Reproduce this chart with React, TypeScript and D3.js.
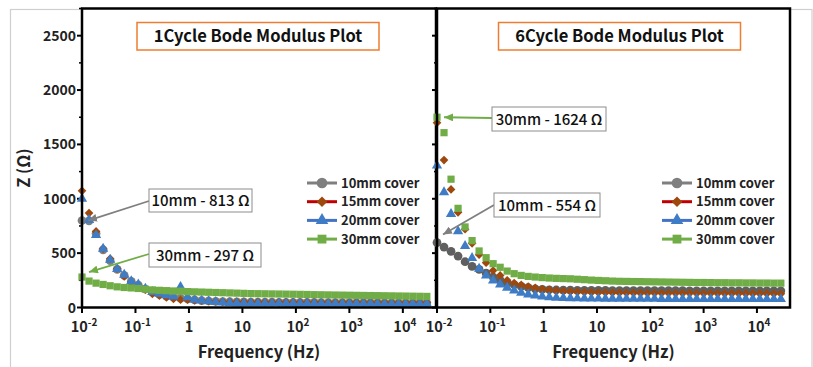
import React, { useEffect, useRef } from 'react';
import * as d3 from 'd3';

// frequency sweep (Hz), ~7.6 points per decade
const freq = [
  0.01, 0.01354, 0.01833, 0.02483, 0.03361, 0.0455, 0.06161, 0.08341, 0.1129, 0.1529,
  0.207, 0.2803, 0.3795, 0.5138, 0.6957, 0.9419, 1.275, 1.727, 2.338, 3.166,
  4.286, 5.803, 7.857, 10.64, 14.4, 19.5, 26.4, 35.75, 48.4, 65.53,
  88.72, 120.1, 162.6, 220.2, 298.1, 403.6, 546.5, 739.9, 1002, 1356,
  1836, 2486, 3366, 4558, 6171, 8355, 11312, 15316, 20737, 28076,
];

// 1 cycle |Z| (ohm)
const c1_10mm = [
  800, 797, 680, 530, 430, 350, 295, 240, 205, 170,
  140, 120, 105, 95, 85, 78, 70, 64, 60, 57,
  55, 53, 52, 51, 50, 50, 49, 49, 48, 48,
  48, 47, 47, 47, 46, 46, 46, 46, 45, 45,
  45, 45, 45, 44, 44, 44, 44, 44, 43, 43,
];
const c1_15mm = [
  1073, 868, 700, 541, 449, 357, 286, 233, 200, 165,
  126, 110, 92, 80, 71, 71, 66, 62, 58, 56,
  54, 53, 52, 52, 51, 51, 50, 50, 50, 50,
  49, 49, 49, 49, 49, 48, 48, 48, 48, 48,
  47, 47, 47, 47, 47, 46, 46, 46, 46, 46,
];
const c1_20mm = [
  1000, 805, 666, 540, 438, 355, 302, 242, 212, 174,
  142, 126, 112, 100, 190, 95, 71, 65, 58, 50,
  45, 41, 40, 39, 39, 38, 38, 38, 38, 37,
  37, 37, 37, 37, 37, 36, 36, 36, 36, 36,
  36, 36, 35, 35, 35, 35, 35, 35, 35, 35,
];
const c1_30mm = [
  280, 243, 224, 212, 200, 190, 184, 180, 175, 168,
  162, 158, 155, 152, 150, 146, 144, 142, 140, 138,
  136, 134, 132, 130, 128, 127, 126, 125, 124, 123,
  122, 121, 120, 118, 117, 116, 115, 114, 113, 112,
  111, 110, 109, 108, 107, 106, 105, 104, 103, 102,
];

// 6 cycle |Z| (ohm)
const c6_10mm = [
  597, 556, 517, 473, 421, 378, 350, 316, 280, 249,
  224, 209, 194, 182, 172, 166, 163, 161, 160, 159,
  158, 158, 157, 157, 157, 156, 156, 156, 156, 156,
  155, 155, 155, 155, 155, 155, 154, 154, 154, 154,
  154, 154, 153, 153, 153, 153, 153, 153, 153, 153,
];
const c6_15mm = [
  1700, 1356, 1086, 875, 720, 590, 486, 412, 340, 295,
  250, 225, 208, 193, 180, 170, 162, 156, 151, 147,
  144, 141, 139, 137, 136, 135, 134, 133, 133, 132,
  132, 131, 131, 131, 130, 130, 130, 129, 129, 129,
  128, 128, 128, 128, 127, 127, 127, 127, 126, 126,
];
const c6_20mm = [
  1305, 1060, 860, 701, 565, 455, 357, 295, 249, 212,
  182, 157, 136, 120, 111, 101, 95, 90, 87, 85,
  84, 83, 82, 82, 81, 81, 81, 80, 80, 80,
  80, 80, 79, 79, 79, 79, 79, 79, 78, 78,
  78, 78, 78, 78, 78, 78, 77, 77, 77, 77,
];
const c6_30mm = [
  1750, 1608, 1180, 912, 741, 615, 520, 458, 403, 370,
  335, 311, 295, 286, 280, 275, 271, 268, 266, 264,
  260, 256, 252, 249, 246, 243, 241, 240, 239, 238,
  237, 236, 235, 234, 233, 232, 231, 230, 230, 229,
  228, 228, 227, 227, 226, 226, 225, 225, 224, 224,
];

const seriesNames = ['10mm cover', '15mm cover', '20mm cover', '30mm cover'];
const xTickPowers = [-2, -1, 0, 1, 2, 3, 4];
const yTicks = [0, 500, 1000, 1500, 2000, 2500];
const yMinorTicks = [250, 750, 1250, 1750, 2250, 2750];

const W = 813;
const H = 367;
const FONT = '"Noto Sans CJK KR", "Noto Sans", sans-serif';

const lineColors = ['#7f7f7f', '#c00000', '#4472c4', '#70ad47'];
const markColors = ['#7f7f7f', '#9e480e', '#3f7cc6', '#70ad47'];
const symbols = [d3.symbolCircle, d3.symbolDiamond2, d3.symbolTriangle, d3.symbolSquare];
const symSizes = [60, 48, 46, 52];

const panels = [
  {
    x0: 82, x1: 436, title: '1Cycle Bode Modulus Plot', titleBox: [137, 22.5, 242, 27.5],
    data: [c1_10mm, c1_15mm, c1_20mm, c1_30mm], grayMark: '#7f7f7f', legendX: 307,
    notes: [
      { text: '10mm - 813 Ω', s: 0, box: [149, 189, 103, 23], from: [149, 201], dx: 6, dy: 0 },
      { text: '30mm - 297 Ω', s: 3, box: [149, 243, 112, 24], from: [149, 254], dx: 7, dy: -5 },
    ],
  },
  {
    x0: 437, x1: 790, title: '6Cycle Bode Modulus Plot', titleBox: [498.5, 22.5, 242, 27.5],
    data: [c6_10mm, c6_15mm, c6_20mm, c6_30mm], grayMark: '#5f5f5f', legendX: 662,
    notes: [
      { text: '30mm - 1624 Ω', s: 3, box: [492, 107, 114, 24], from: [492, 118], dx: 7, dy: 0 },
      { text: '10mm - 554 Ω', s: 0, box: [494, 193, 106, 24], from: [494, 205], dx: 6, dy: -8 },
    ],
  },
];

const App = () => {
  const svgRef = useRef(null);

  useEffect(() => {
    const svg = d3.select(svgRef.current);
    svg.selectAll('*').remove();

    const defs = svg.append('defs');
    [['arrow-gray', '#7f7f7f'], ['arrow-green', '#70ad47']].forEach(([id, c]) => {
      defs.append('marker')
        .attr('id', id)
        .attr('markerUnits', 'userSpaceOnUse')
        .attr('markerWidth', 10).attr('markerHeight', 8)
        .attr('refX', 9).attr('refY', 4)
        .attr('orient', 'auto')
        .append('path').attr('d', 'M0,0 L9,4 L0,8 z').attr('fill', c);
    });

    svg.append('rect').attr('width', W).attr('height', H).attr('fill', '#fff');
    // light outer frame
    svg.append('rect')
      .attr('x', 10.5).attr('y', 9.5).attr('width', 801.5).attr('height', 380)
      .attr('fill', 'none').attr('stroke', '#cfcfcf').attr('stroke-width', 1.2);

    const y = d3.scaleLinear().domain([0, 2750]).range([307.5, 8.5]);

    panels.forEach((p, pi) => {
      const x = d3.scaleLog().domain([0.01, Math.pow(10, 4.62)]).range([p.x0, p.x1]);
      const g = svg.append('g');

      // white plot area
      g.append('rect').attr('x', p.x0).attr('y', 8.5).attr('width', p.x1 - p.x0).attr('height', 299)
        .attr('fill', '#fff');

      // y ticks on left side of each panel
      g.selectAll('.ymaj').data(yTicks).enter().append('line')
        .attr('x1', p.x0 - 5).attr('x2', p.x0).attr('y1', d => y(d)).attr('y2', d => y(d))
        .attr('stroke', '#000').attr('stroke-width', 2);
      g.selectAll('.ymin').data(yMinorTicks).enter().append('line')
        .attr('x1', p.x0 - 3).attr('x2', p.x0).attr('y1', d => y(d)).attr('y2', d => y(d))
        .attr('stroke', '#000').attr('stroke-width', 1.5);
      if (pi === 0) {
        g.selectAll('.ylab').data(yTicks).enter().append('text')
          .attr('x', 76).attr('y', d => y(d) + 5)
          .attr('text-anchor', 'end')
          .attr('font-family', FONT).attr('font-size', 14).attr('font-weight', 700)
          .attr('fill', '#222')
          .text(d => d);
      }

      // x ticks
      g.selectAll('.xt').data(xTickPowers).enter().append('line')
        .attr('x1', d => x(Math.pow(10, d))).attr('x2', d => x(Math.pow(10, d)))
        .attr('y1', 307.5).attr('y2', 313)
        .attr('stroke', '#000').attr('stroke-width', 2);
      const lab = g.selectAll('.xl').data(xTickPowers).enter().append('text')
        .attr('x', d => x(Math.pow(10, d)) + (d < 0 || d > 1 ? 2 : 0)).attr('y', 332)
        .attr('text-anchor', 'middle')
        .attr('font-family', FONT).attr('font-size', 14.5).attr('font-weight', 700)
        .attr('fill', '#222');
      lab.append('tspan').text(d => (d === 0 ? '1' : '10'));
      lab.filter(d => d < 0 || d > 1).append('tspan')
        .attr('dy', -6).attr('font-size', 10).text(d => String(d));

      g.append('text')
        .attr('x', (p.x0 + p.x1) / 2).attr('y', 358)
        .attr('text-anchor', 'middle')
        .attr('font-family', FONT).attr('font-size', 16.5).attr('font-weight', 700)
        .attr('fill', '#222')
        .text('Frequency (Hz)');

      // data markers
      p.data.forEach((vals, si) => {
        const sym = d3.symbol().type(symbols[si]).size(symSizes[si]);
        g.append('g').selectAll('path').data(vals).enter().append('path')
          .attr('d', sym)
          .attr('transform', (d, i) => `translate(${x(freq[i])},${y(d)})`)
          .attr('fill', si === 0 ? p.grayMark : markColors[si]);
      });

      // frame
      g.append('rect').attr('x', p.x0).attr('y', 8.5).attr('width', p.x1 - p.x0).attr('height', 299)
        .attr('fill', 'none').attr('stroke', '#000').attr('stroke-width', 2.5);

      // title box
      const [tx, ty, tw, th] = p.titleBox;
      g.append('rect').attr('x', tx).attr('y', ty).attr('width', tw).attr('height', th)
        .attr('fill', '#fff').attr('stroke', '#ed7d31').attr('stroke-width', 1.5);
      g.append('text')
        .attr('x', tx + tw / 2).attr('y', ty + th / 2 + 6)
        .attr('text-anchor', 'middle')
        .attr('font-family', FONT).attr('font-size', 16.5).attr('font-weight', 700)
        .attr('fill', '#111')
        .text(p.title);

      // legend
      seriesNames.forEach((name, si) => {
        const ly = 183 + si * 18.7;
        g.append('line')
          .attr('x1', p.legendX).attr('x2', p.legendX + 30).attr('y1', ly).attr('y2', ly)
          .attr('stroke', lineColors[si]).attr('stroke-width', 3);
        g.append('path')
          .attr('d', d3.symbol().type(symbols[si]).size(symSizes[si] * 1.5)())
          .attr('transform', `translate(${p.legendX + 15},${ly})`)
          .attr('fill', si === 0 ? '#7f7f7f' : markColors[si]);
        g.append('text')
          .attr('x', p.legendX + 34).attr('y', ly + 4.5)
          .attr('font-family', FONT).attr('font-size', 13).attr('font-weight', 700)
          .attr('fill', '#222')
          .text(name);
      });

      // annotations
      p.notes.forEach(n => {
        const color = n.s === 3 ? '#70ad47' : '#7f7f7f';
        const tipX = x(freq[0]) + n.dx;
        const tipY = y(p.data[n.s][0]) + n.dy;
        g.append('line')
          .attr('x1', n.from[0]).attr('y1', n.from[1]).attr('x2', tipX).attr('y2', tipY)
          .attr('stroke', color).attr('stroke-width', 1.8)
          .attr('marker-end', `url(#${n.s === 3 ? 'arrow-green' : 'arrow-gray'})`);
        const [bx, by, bw, bh] = n.box;
        g.append('rect').attr('x', bx).attr('y', by).attr('width', bw).attr('height', bh)
          .attr('fill', '#fff').attr('stroke', '#8c8c8c').attr('stroke-width', 1);
        g.append('text')
          .attr('x', bx + bw / 2).attr('y', by + bh / 2 + 5.5)
          .attr('text-anchor', 'middle')
          .attr('font-family', FONT).attr('font-size', 15).attr('font-weight', 500)
          .attr('fill', '#111')
          .text(n.text);
      });
    });

    // y axis title
    svg.append('text')
      .attr('transform', 'translate(30,168) rotate(-90)')
      .attr('text-anchor', 'middle')
      .attr('font-family', FONT).attr('font-size', 16.5).attr('font-weight', 700)
      .attr('fill', '#222')
      .text('Z (Ω)');
  }, []);

  return (
    <svg ref={svgRef} width={W} height={H} style={{ position: 'absolute', left: 0, top: 0 }} />
  );
};

export default App;
